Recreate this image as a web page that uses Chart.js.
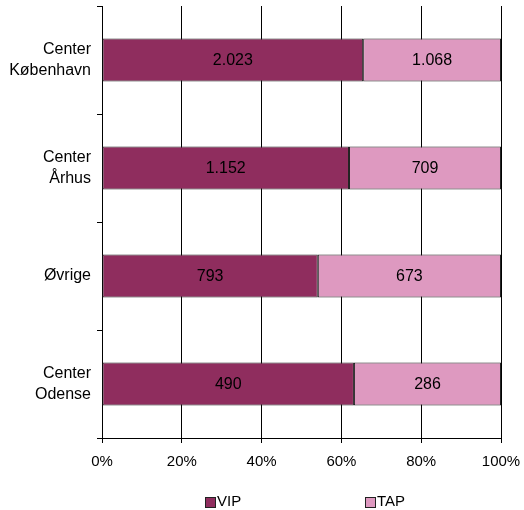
<!DOCTYPE html>
<html>
<head>
<meta charset="utf-8">
<script src="https://cdn.jsdelivr.net/npm/chart.js@4"></script>
<style>
  body { margin: 0; background: #fff; }
  #wrap { width: 524px; height: 510px; }
</style>
</head>
<body>
<div id="wrap"><canvas id="chart" width="524" height="510"></canvas></div>
<script>
const categories = [['Center', 'København'], ['Center', 'Århus'], 'Øvrige', ['Center', 'Odense']];
const seriesNames = ['VIP', 'TAP'];
const vipValues = [2023, 1152, 793, 490];
const tapValues = [1068, 709, 673, 286];
const xTicks = [0, 20, 40, 60, 80, 100];

const vipColor = 'rgb(143, 45, 94)';  // mørk lilla
const tapColor = 'rgb(222, 153, 192)'; // lys rosa
const edgeColor = '#222';
const fontFamily = '"Liberation Sans", Arial, sans-serif';

// andele i procent (100% stablet)
const totals = vipValues.map((v, i) => v + tapValues[i]);
const vipPct = vipValues.map((v, i) => v / totals[i] * 100);
const tapPct = tapValues.map((v, i) => v / totals[i] * 100);

function fmt(n) { // dansk tusindtalsseparator
  return String(n).replace(/\B(?=(\d{3})+(?!\d))/g, '.');
}

// værdier midt i hvert segment
const valueLabels = {
  id: 'valueLabels',
  afterDatasetsDraw(chart) {
    const ctx = chart.ctx;
    ctx.save();
    ctx.font = '16px ' + fontFamily;
    ctx.fillStyle = '#000';
    ctx.textAlign = 'center';
    ctx.textBaseline = 'middle';
    chart.data.datasets.forEach((ds, di) => {
      chart.getDatasetMeta(di).data.forEach((bar, i) => {
        const mid = (bar.x + bar.base) / 2;
        ctx.fillText(fmt(ds.raw[i]), mid, bar.y + 1);
      });
    });
    ctx.restore();
  }
};

// forklaring nederst
const bottomLegend = {
  id: 'bottomLegend',
  afterDraw(chart) {
    const ctx = chart.ctx;
    const spots = [205, 365];
    ctx.save();
    ctx.font = '15px ' + fontFamily;
    ctx.textBaseline = 'middle';
    chart.data.datasets.forEach((ds, di) => {
      const x = spots[di];
      ctx.fillStyle = ds.backgroundColor;
      ctx.fillRect(x + 0.5, 497.5, 10, 10);
      ctx.strokeStyle = edgeColor;
      ctx.lineWidth = 1;
      ctx.strokeRect(x + 0.5, 497.5, 10, 10);
      ctx.fillStyle = '#000';
      ctx.fillText(ds.label, x + 12, 502);
    });
    ctx.restore();
  }
};

new Chart(document.getElementById('chart').getContext('2d'), {
  type: 'bar',
  data: {
    labels: categories,
    datasets: [
      { label: seriesNames[0], data: vipPct, raw: vipValues, backgroundColor: vipColor,
        borderColor: edgeColor, borderWidth: 1, borderSkipped: false,
        categoryPercentage: 1, barPercentage: 0.4 },
      { label: seriesNames[1], data: tapPct, raw: tapValues, backgroundColor: tapColor,
        borderColor: edgeColor, borderWidth: 1, borderSkipped: false,
        categoryPercentage: 1, barPercentage: 0.4 }
    ]
  },
  options: {
    indexAxis: 'y',
    responsive: false,
    animation: false,
    layout: { padding: { top: 6, right: 23, left: 0, bottom: 32 } },
    scales: {
      x: {
        stacked: true,
        min: 0,
        max: 100,
        afterBuildTicks: (s) => { s.ticks = xTicks.map(v => ({ value: v })); },
        afterFit: (s) => { s.height = 40; s.paddingLeft = 0; s.paddingRight = 0; },
        grid: { color: '#000', lineWidth: 1, tickLength: 5, drawTicks: true },
        border: { color: '#000', width: 1 },
        ticks: { color: '#000', font: { family: fontFamily, size: 15 }, padding: 10,
                 callback: (v) => v + '%' }
      },
      y: {
        stacked: true,
        afterFit: (s) => { s.width = 102; s.paddingTop = 0; s.paddingBottom = 0; },
        grid: { offset: true, drawOnChartArea: false, color: '#000', tickLength: 5 },
        border: { color: '#000', width: 1 },
        ticks: { color: '#000', font: { family: fontFamily, size: 16, lineHeight: 1.35 }, padding: 6 }
      }
    },
    plugins: {
      legend: { display: false },
      tooltip: { enabled: false }
    }
  },
  plugins: [valueLabels, bottomLegend]
});
</script>
</body>
</html>
